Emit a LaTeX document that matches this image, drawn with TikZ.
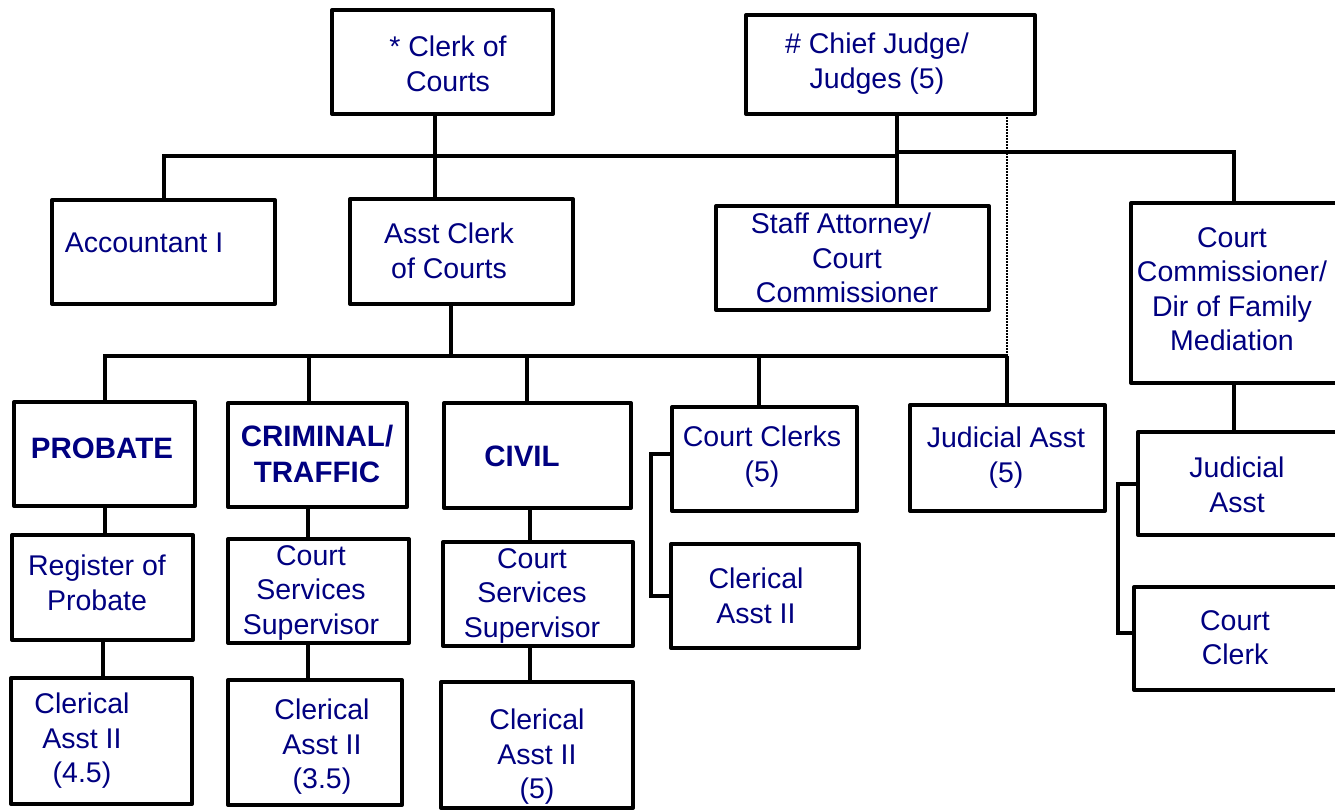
\documentclass[tikz,border=0pt]{standalone}
\usepackage{fontspec}
\setmainfont{Liberation Sans}
\definecolor{navytext}{RGB}{0,0,128}
\newcommand\orgbox[5]{\node[box, minimum width={#3-#2}, minimum height={#5-#4}] (#1) at ({(#2+#3)/2},{(#4+#5)/2}) {};}
\begin{document}
\begin{tikzpicture}[x=1pt,y=-1pt,
  box/.style={draw=black, line width=4pt, line join=round, inner sep=0pt, outer sep=0pt},
  conn/.style={draw=black, line width=4pt},
  dotconn/.style={draw=black, line width=1.5pt, dash pattern=on 1.5pt off 1.5pt},
  lbl/.style={text=navytext, inner sep=0pt, anchor=north, align=center, font=\fontsize{28.5}{34.5}\selectfont},
  blbl/.style={lbl, font=\fontsize{29.5}{36}\selectfont\bfseries},
]
\useasboundingbox (0,0) rectangle (1335,811);
\clip (0,0) rectangle (1335,811);

% ---- boxes: name, x1, x2, y1, y2
\orgbox{clerk}{332}{553}{10}{114}
\orgbox{judges}{746}{1035}{15}{114}
\orgbox{acct}{52}{275}{200}{304}
\orgbox{asst}{350}{573}{199}{304}
\orgbox{staff}{716}{989}{206}{310}
\orgbox{comm}{1131}{1342}{203}{383}
\orgbox{probate}{14}{195}{402}{506}
\orgbox{crim}{228}{407}{403}{507}
\orgbox{civil}{444}{631}{403}{508}
\orgbox{cclerks}{672}{857}{407}{511}
\orgbox{jasstfive}{910}{1105}{405}{511}
\orgbox{jasst}{1138}{1342}{432}{535}
\orgbox{regprob}{12}{193}{535}{640}
\orgbox{csscrim}{228}{409}{539}{643}
\orgbox{csscivil}{443}{633}{542}{646}
\orgbox{clerasst}{671}{859}{544}{648}
\orgbox{cclerk}{1134}{1342}{587}{690}
\orgbox{clerfour}{11}{192}{678}{804}
\orgbox{clerthree}{228}{402}{680}{805}
\orgbox{clerfive}{441}{633}{682}{808}

% ---- labels
\node[lbl] (clerk-t) at (448,36) {* Clerk of\\Courts};
\node[lbl] (judges-t) at (877,33) {\# Chief Judge/\\Judges (5)};
\node[lbl] (acct-t) at (144,233) {Accountant I};
\node[lbl] (asst-t) at (449,223) {Asst Clerk\\of Courts};
\node[lbl] (staff-t) at (847,213) {Staff Attorney/\hspace*{12pt}\\Court\\Commissioner};
\node[lbl] (comm-t) at (1232,227) {Court\\Commissioner/\\Dir of Family\\Mediation};
\node[blbl] (probate-t) at (102,438) {PROBATE};
\node[blbl] (crim-t) at (317,425) {CRIMINAL/\\TRAFFIC};
\node[blbl] (civil-t) at (522,446) {CIVIL};
\node[lbl] (cclerks-t) at (762,426) {Court Clerks\\(5)};
\node[lbl] (jasstfive-t) at (1006,427) {Judicial Asst\\(5)};
\node[lbl] (jasst-t) at (1237,457) {Judicial\\Asst};
\node[lbl] (regprob-t) at (97,555) {Register of\\Probate};
\node[lbl] (csscrim-t) at (311,545) {Court\\Services\\Supervisor};
\node[lbl] (csscivil-t) at (532,548) {Court\\Services\\Supervisor};
\node[lbl] (clerasst-t) at (756,568) {Clerical\\Asst II};
\node[lbl] (cclerk-t) at (1235,610) {Court\\Clerk};
\node[lbl] (clerfour-t) at (82,693) {Clerical\\Asst II\\(4.5)};
\node[lbl] (clerthree-t) at (322,699) {Clerical\\Asst II\\(3.5)};
\node[lbl] (clerfive-t) at (537,709) {Clerical\\Asst II\\(5)};

% ---- connector points
\coordinate (b1) at (435,156);
\coordinate (j1) at (897,156);
\coordinate (j2) at (897,152);
\coordinate (cx) at (1234,152);
\coordinate (a2) at (451,356);
\coordinate (bus2) at (1007,356);
\coordinate (dcrim) at (309,356);
\coordinate (dcivil) at (527,356);
\coordinate (dcc) at (759,356);
\coordinate (vcrim) at (308,0);
\coordinate (vcivil) at (530,0);
\coordinate (brone) at (651,0);
\coordinate (brtwo) at (1118,0);
\coordinate (ccleft) at ([yshift=5pt]cclerks.west);
\coordinate (ckleft) at ([yshift=6pt]cclerk.west);

% ---- connectors
\draw[conn] (clerk.south -| b1) -- (asst.north -| b1);
\draw[conn] (acct.north) |- (j1);
\draw[conn] (judges.south -| j1) -- (staff.north -| j1);
\draw[conn] (j2) -| (comm.north -| cx);
\draw[dotconn] (judges.south -| bus2) -- (bus2);
\draw[conn] (asst.south -| a2) -- (a2);
\draw[conn] (probate.north) |- (bus2);
\draw[conn] (bus2) -- (bus2 |- jasstfive.north);
\draw[conn] (dcrim) -- (crim.north -| dcrim);
\draw[conn] (dcivil) -- (civil.north -| dcivil);
\draw[conn] (dcc) -- (cclerks.north -| dcc);
\draw[conn] (probate.south) -- (probate.south |- regprob.north);
\draw[conn] (regprob.south) -- (regprob.south |- clerfour.north);
\draw[conn] (crim.south -| vcrim) -- (csscrim.north -| vcrim);
\draw[conn] (csscrim.south -| vcrim) -- (clerthree.north -| vcrim);
\draw[conn] (civil.south -| vcivil) -- (csscivil.north -| vcivil);
\draw[conn] (csscivil.south -| vcivil) -- (clerfive.north -| vcivil);
\draw[conn] (ccleft) -| (brone |- clerasst.west) -- (clerasst.west);
\draw[conn] (comm.south -| cx) -- (jasst.north -| cx);
\draw[conn] (jasst.west) -| (brtwo |- ckleft) -- (ckleft);
\end{tikzpicture}
\end{document}
